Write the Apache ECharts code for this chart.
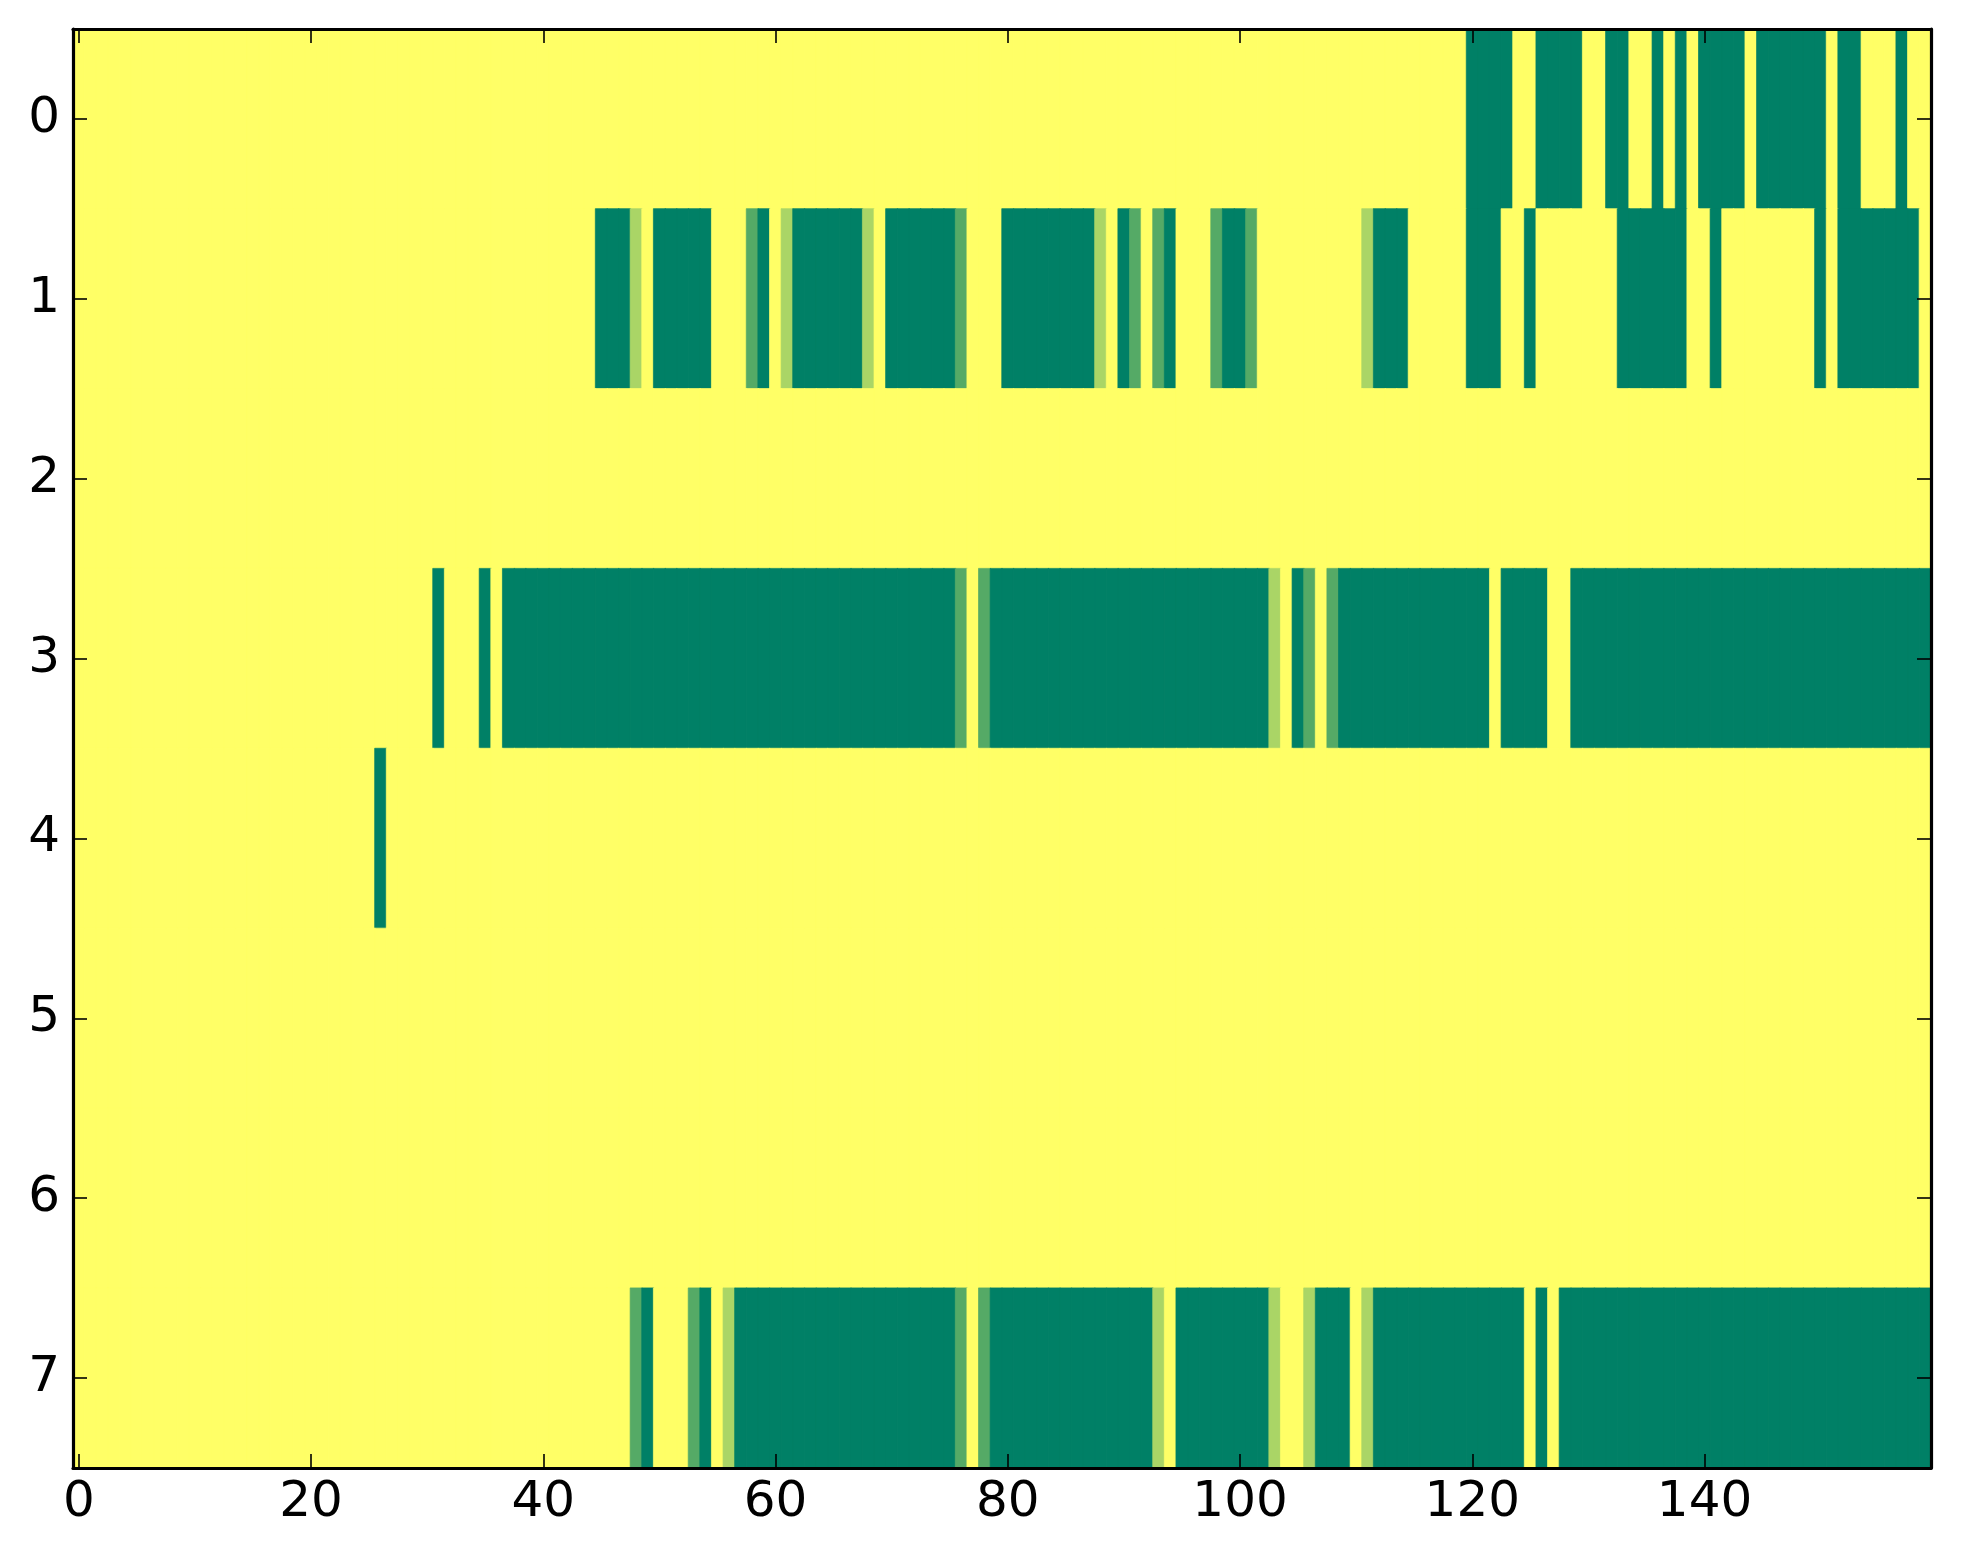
<!DOCTYPE html>
<html>
<head>
<meta charset="utf-8">
<script src="https://cdn.jsdelivr.net/npm/echarts@6/dist/echarts.min.js"></script>
<style>
html,body{margin:0;padding:0;background:#fff;}
#chart{width:1963px;height:1564px;}
</style>
</head>
<body>
<div id="chart"></div>
<script>
// Row labels (y axis, top to bottom)
const rowLabels = ['0','1','2','3','4','5','6','7'];
// Column count 0..159 (x axis)
const colCount = 160;
const xTickStep = 20;

// Cell values (0 = yellow ... 3 = dark green), 160 columns per row
const row0 = [
0,0,0,0,0,0,0,0,0,0, 0,0,0,0,0,0,0,0,0,0, 0,0,0,0,0,0,0,0,0,0, 0,0,0,0,0,0,0,0,0,0,
0,0,0,0,0,0,0,0,0,0, 0,0,0,0,0,0,0,0,0,0, 0,0,0,0,0,0,0,0,0,0, 0,0,0,0,0,0,0,0,0,0,
0,0,0,0,0,0,0,0,0,0, 0,0,0,0,0,0,0,0,0,0, 0,0,0,0,0,0,0,0,0,0, 0,0,0,0,0,0,0,0,0,0,
3,3,3,3,0,0,3,3,3,3, 0,0,3,3,0,0,3,0,3,0, 3,3,3,3,0,3,3,3,3,3, 3,0,3,3,0,0,0,3,0,0
];
const row1 = [
0,0,0,0,0,0,0,0,0,0, 0,0,0,0,0,0,0,0,0,0, 0,0,0,0,0,0,0,0,0,0, 0,0,0,0,0,0,0,0,0,0,
0,0,0,0,0,3,3,3,1,0, 3,3,3,3,3,0,0,0,2,3, 0,1,3,3,3,3,3,3,1,0, 3,3,3,3,3,3,2,0,0,0,
3,3,3,3,3,3,3,3,1,0, 3,2,0,2,3,0,0,0,2,3, 3,2,0,0,0,0,0,0,0,0, 0,1,3,3,3,0,0,0,0,0,
3,3,3,0,0,3,0,0,0,0, 0,0,0,3,3,3,3,3,3,0, 0,3,0,0,0,0,0,0,0,0, 3,0,3,3,3,3,3,3,3,0
];
const row2 = [
0,0,0,0,0,0,0,0,0,0, 0,0,0,0,0,0,0,0,0,0, 0,0,0,0,0,0,0,0,0,0, 0,0,0,0,0,0,0,0,0,0,
0,0,0,0,0,0,0,0,0,0, 0,0,0,0,0,0,0,0,0,0, 0,0,0,0,0,0,0,0,0,0, 0,0,0,0,0,0,0,0,0,0,
0,0,0,0,0,0,0,0,0,0, 0,0,0,0,0,0,0,0,0,0, 0,0,0,0,0,0,0,0,0,0, 0,0,0,0,0,0,0,0,0,0,
0,0,0,0,0,0,0,0,0,0, 0,0,0,0,0,0,0,0,0,0, 0,0,0,0,0,0,0,0,0,0, 0,0,0,0,0,0,0,0,0,0
];
const row3 = [
0,0,0,0,0,0,0,0,0,0, 0,0,0,0,0,0,0,0,0,0, 0,0,0,0,0,0,0,0,0,0, 0,3,0,0,0,3,0,3,3,3,
3,3,3,3,3,3,3,3,3,3, 3,3,3,3,3,3,3,3,3,3, 3,3,3,3,3,3,3,3,3,3, 3,3,3,3,3,3,2,0,2,3,
3,3,3,3,3,3,3,3,3,3, 3,3,3,3,3,3,3,3,3,3, 3,3,3,1,0,3,2,0,2,3, 3,3,3,3,3,3,3,3,3,3,
3,3,0,3,3,3,3,0,0,3, 3,3,3,3,3,3,3,3,3,3, 3,3,3,3,3,3,3,3,3,3, 3,3,3,3,3,3,3,3,3,3
];
const row4 = [
0,0,0,0,0,0,0,0,0,0, 0,0,0,0,0,0,0,0,0,0, 0,0,0,0,0,0,3,0,0,0, 0,0,0,0,0,0,0,0,0,0,
0,0,0,0,0,0,0,0,0,0, 0,0,0,0,0,0,0,0,0,0, 0,0,0,0,0,0,0,0,0,0, 0,0,0,0,0,0,0,0,0,0,
0,0,0,0,0,0,0,0,0,0, 0,0,0,0,0,0,0,0,0,0, 0,0,0,0,0,0,0,0,0,0, 0,0,0,0,0,0,0,0,0,0,
0,0,0,0,0,0,0,0,0,0, 0,0,0,0,0,0,0,0,0,0, 0,0,0,0,0,0,0,0,0,0, 0,0,0,0,0,0,0,0,0,0
];
const row5 = [
0,0,0,0,0,0,0,0,0,0, 0,0,0,0,0,0,0,0,0,0, 0,0,0,0,0,0,0,0,0,0, 0,0,0,0,0,0,0,0,0,0,
0,0,0,0,0,0,0,0,0,0, 0,0,0,0,0,0,0,0,0,0, 0,0,0,0,0,0,0,0,0,0, 0,0,0,0,0,0,0,0,0,0,
0,0,0,0,0,0,0,0,0,0, 0,0,0,0,0,0,0,0,0,0, 0,0,0,0,0,0,0,0,0,0, 0,0,0,0,0,0,0,0,0,0,
0,0,0,0,0,0,0,0,0,0, 0,0,0,0,0,0,0,0,0,0, 0,0,0,0,0,0,0,0,0,0, 0,0,0,0,0,0,0,0,0,0
];
const row6 = [
0,0,0,0,0,0,0,0,0,0, 0,0,0,0,0,0,0,0,0,0, 0,0,0,0,0,0,0,0,0,0, 0,0,0,0,0,0,0,0,0,0,
0,0,0,0,0,0,0,0,0,0, 0,0,0,0,0,0,0,0,0,0, 0,0,0,0,0,0,0,0,0,0, 0,0,0,0,0,0,0,0,0,0,
0,0,0,0,0,0,0,0,0,0, 0,0,0,0,0,0,0,0,0,0, 0,0,0,0,0,0,0,0,0,0, 0,0,0,0,0,0,0,0,0,0,
0,0,0,0,0,0,0,0,0,0, 0,0,0,0,0,0,0,0,0,0, 0,0,0,0,0,0,0,0,0,0, 0,0,0,0,0,0,0,0,0,0
];
const row7 = [
0,0,0,0,0,0,0,0,0,0, 0,0,0,0,0,0,0,0,0,0, 0,0,0,0,0,0,0,0,0,0, 0,0,0,0,0,0,0,0,0,0,
0,0,0,0,0,0,0,0,2,3, 0,0,0,2,3,0,1,3,3,3, 3,3,3,3,3,3,3,3,3,3, 3,3,3,3,3,3,2,0,2,3,
3,3,3,3,3,3,3,3,3,3, 3,3,3,1,0,3,3,3,3,3, 3,3,3,1,0,0,1,3,3,3, 0,1,3,3,3,3,3,3,3,3,
3,3,3,3,3,0,3,0,3,3, 3,3,3,3,3,3,3,3,3,3, 3,3,3,3,3,3,3,3,3,3, 3,3,3,3,3,3,3,3,3,3
];
const rows = [row0, row1, row2, row3, row4, row5, row6, row7];

// summer_r colormap levels for values 0..3
const levelColors = ['#ffff66', '#aad566', '#55aa66', '#008066'];

const xCategories = Array.from({length: colCount}, (_, i) => String(i));
const cells = [];
rows.forEach((r, y) => r.forEach((v, x) => {
  const c = levelColors[v];
  cells.push({value: [x, y, v], itemStyle: {color: c, borderColor: c, borderWidth: 0.7}});
}));

const fontFamily = 'DejaVu Sans';
const tickLine = {color: '#000', width: 1.6};
const axisLineStyle = {show: true, lineStyle: {color: '#000', width: 3.2}};

const chart = echarts.init(document.getElementById('chart'), null, {renderer: 'canvas'});
chart.setOption({
  animation: false,
  backgroundColor: '#ffffff',
  grid: {left: 73, right: 32, top: 29, bottom: 96, containLabel: false, outerBoundsMode: 'none'},
  xAxis: [
    {type: 'category', data: xCategories, position: 'bottom', boundaryGap: true, z: 10,
     axisLine: axisLineStyle,
     axisTick: {show: true, inside: true, length: 14, interval: xTickStep - 1, alignWithLabel: true, lineStyle: tickLine},
     axisLabel: {interval: xTickStep - 1, margin: 10, fontSize: 50, fontFamily: fontFamily, color: '#000'},
     splitLine: {show: false}},
    {type: 'category', data: xCategories, position: 'top', boundaryGap: true, z: 10,
     axisLine: axisLineStyle,
     axisTick: {show: true, inside: true, length: 14, interval: xTickStep - 1, alignWithLabel: true, lineStyle: tickLine},
     axisLabel: {show: false}, splitLine: {show: false}}
  ],
  yAxis: [
    {type: 'category', data: rowLabels, inverse: true, position: 'left', boundaryGap: true, z: 10,
     axisLine: axisLineStyle,
     axisTick: {show: true, inside: true, length: 14, alignWithLabel: true, lineStyle: tickLine},
     axisLabel: {margin: 13, fontSize: 50, fontFamily: fontFamily, color: '#000'},
     splitLine: {show: false}},
    {type: 'category', data: rowLabels, inverse: true, position: 'right', boundaryGap: true, z: 10,
     axisLine: axisLineStyle,
     axisTick: {show: true, inside: true, length: 14, alignWithLabel: true, lineStyle: tickLine},
     axisLabel: {show: false}, splitLine: {show: false}}
  ],
  series: [{
    type: 'heatmap', xAxisIndex: 0, yAxisIndex: 0,
    data: cells,
    emphasis: {disabled: true},
    z: 1
  }]
});
</script>
</body>
</html>
